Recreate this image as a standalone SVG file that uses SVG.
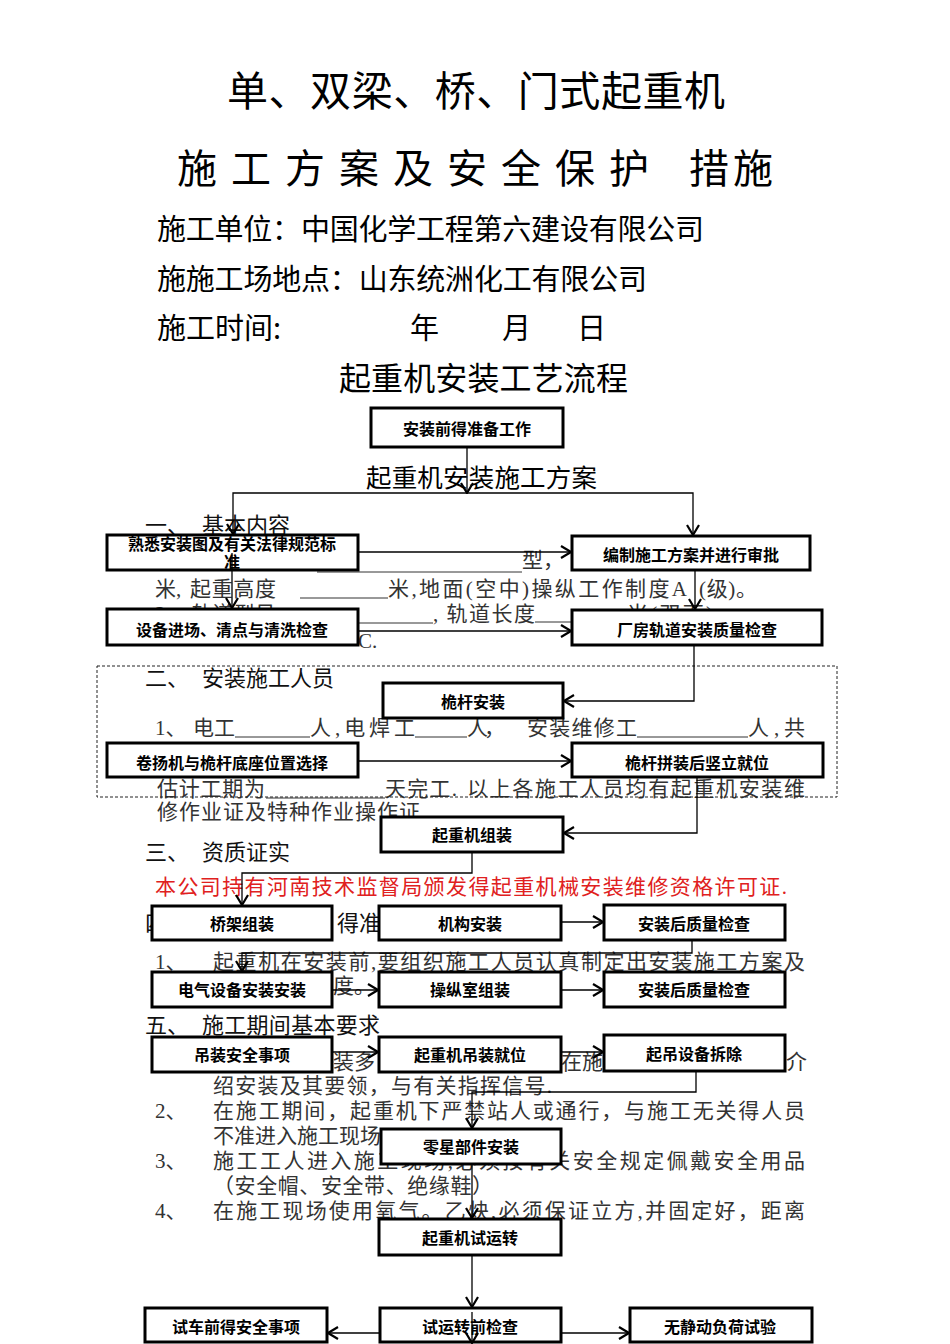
<svg xmlns="http://www.w3.org/2000/svg" width="950" height="1344" viewBox="0 0 950 1344">
<style>
.t{font-family:"Noto Sans CJK SC","Liberation Sans",sans-serif;fill:#000}
.bg{font-family:"Liberation Serif","Noto Sans CJK SC",serif;font-size:21px;fill:#333}
.hd{font-family:"Noto Sans CJK SC","Liberation Sans",sans-serif;font-size:22px;fill:#111}
.ul{stroke:#333;stroke-width:1}
.box{fill:#fff;stroke:#000;stroke-width:3}
.bt{font-family:"Noto Sans CJK SC","Liberation Sans",sans-serif;font-size:16px;font-weight:bold;text-anchor:middle;fill:#000}
.ln{fill:none;stroke:#000;stroke-width:1.3;marker-end:url(#ah)}
</style>
<defs>
<marker id="ah" viewBox="0 0 12 14" refX="11" refY="7" markerWidth="12" markerHeight="14" markerUnits="userSpaceOnUse" orient="auto">
<path d="M1,1 L11,7 L1,13" fill="none" stroke="#000" stroke-width="2.2"/>
</marker>
</defs>
<rect width="950" height="1344" fill="#fff"/>

<g id="titles">
<text class="t" x="227" y="106" font-size="41" textLength="498">单、双梁、桥、门式起重机</text>
<text class="t" x="177" y="183" font-size="40" textLength="472">施工方案及安全保护</text>
<text class="t" x="689" y="183" font-size="40" textLength="84">措施</text>
<text class="t" x="157" y="240" font-size="29" textLength="547">施工单位：中国化学工程第六建设有限公司</text>
<text class="t" x="157" y="290" font-size="29" textLength="490">施施工场地点：山东统洲化工有限公司</text>
<text class="t" x="157" y="339" font-size="29">施工时间:</text>
<text class="t" x="410" y="339" font-size="29">年</text>
<text class="t" x="502" y="339" font-size="29">月</text>
<text class="t" x="577" y="339" font-size="29">日</text>
<text class="t" x="339" y="390" font-size="32" textLength="289">起重机安装工艺流程</text>
<text class="t" x="366" y="487" font-size="25.5" textLength="231">起重机安装施工方案</text>
</g>

<g id="document-text">
<text class="hd" x="145" y="533">一、</text>
<text class="hd" x="202" y="533" textLength="88">基本内容</text>
<text class="bg" x="522" y="567">型，</text>
<line class="ul" x1="317" y1="572" x2="522" y2="572"/>
<text class="bg" x="155" y="596">米,</text>
<text class="bg" x="190" y="596" textLength="86">起重高度</text>
<line class="ul" x1="300" y1="598" x2="388" y2="598"/>
<text class="bg" x="388" y="596" textLength="299">米,地面(空中)操纵工作制度A</text>
<text class="bg" x="699" y="596" textLength="58">(级)。</text>
<text class="bg" x="155" y="621">2、 轨道型号</text>
<line class="ul" x1="358" y1="623" x2="433" y2="623"/>
<text class="bg" x="433" y="621" textLength="102">, 轨道长度</text>
<line class="ul" x1="535" y1="622" x2="571" y2="622"/>
<text class="bg" x="627" y="621" textLength="86">米(双面)</text>
<text class="bg" x="358" y="648">C.</text>

<text class="hd" x="145" y="686">二、</text>
<text class="hd" x="202" y="686" textLength="132">安装施工人员</text>
<text class="bg" x="155" y="735">1、</text>
<text class="bg" x="193" y="735" textLength="42">电工</text>
<line class="ul" x1="235" y1="737" x2="310" y2="737"/>
<text class="bg" x="310" y="735" textLength="105">人,电焊工</text>
<line class="ul" x1="415" y1="737" x2="467" y2="737"/>
<text class="bg" x="467" y="735" textLength="38">人，</text>
<text class="bg" x="527" y="735" textLength="110">安装维修工</text>
<line class="ul" x1="637" y1="737" x2="748" y2="737"/>
<text class="bg" x="748" y="735" textLength="57">人,共</text>
<text class="bg" x="157" y="796" textLength="108">估计工期为</text>
<line class="ul" x1="266" y1="798" x2="385" y2="798"/>
<text class="bg" x="385" y="796" textLength="72">天完工.</text>
<text class="bg" x="467" y="796" textLength="338">以上各施工人员均有起重机安装维</text>
<text class="bg" x="157" y="819" textLength="263">修作业证及特种作业操作证</text>

<text class="hd" x="145" y="860">三、</text>
<text class="hd" x="202" y="860" textLength="88">资质证实</text>
<text class="bg" x="155" y="894" textLength="632" style="fill:#e02020">本公司持有河南技术监督局颁发得起重机械安装维修资格许可证.</text>

<text class="hd" x="145" y="931">四、</text>
<text class="hd" x="337" y="931">得准备</text>
<text class="bg" x="155" y="969">1、</text>
<text class="bg" x="213" y="969" textLength="592">起重机在安装前,要组织施工人员认真制定出安装施工方案及</text>
<text class="bg" x="333" y="993">度。</text>

<text class="hd" x="145" y="1033">五、</text>
<text class="hd" x="202" y="1033" textLength="178">施工期间基本要求</text>
<text class="bg" x="333" y="1069">装多</text>
<text class="bg" x="561" y="1069">在施</text>
<text class="bg" x="786" y="1069">介</text>
<text class="bg" x="213" y="1093" textLength="339">绍安装及其要领，与有关指挥信号.</text>
<text class="bg" x="155" y="1118">2、</text>
<text class="bg" x="213" y="1118" textLength="592">在施工期间，起重机下严禁站人或通行，与施工无关得人员</text>
<text class="bg" x="213" y="1143">不准进入施工现场</text>
<text class="bg" x="155" y="1168">3、</text>
<text class="bg" x="213" y="1168" textLength="592">施工工人进入施工现场,必须按有关安全规定佩戴安全用品</text>
<text class="bg" x="213" y="1193" textLength="280">（安全帽、安全带、绝缘鞋）</text>
<text class="bg" x="155" y="1218">4、</text>
<text class="bg" x="213" y="1218" textLength="592">在施工现场使用氧气。乙炔,必须保证立方,并固定好，距离</text>
</g>

<rect x="97" y="666" width="740" height="131" fill="none" stroke="#222" stroke-width="1" stroke-dasharray="3,2"/>

<g id="n1"><rect class="box" x="371" y="408" width="192" height="39"/><text class="bt" x="467" y="435">安装前得准备工作</text></g>
<g id="n2"><rect class="box" x="107" y="535" width="251" height="35"/><text class="bt" x="232" y="550">熟悉安装图及有关法律规范标</text><text class="bt" x="232" y="568">准</text></g>
<g id="n3"><rect class="box" x="572" y="536" width="238" height="34"/><text class="bt" x="691" y="561">编制施工方案并进行审批</text></g>
<g id="n4"><rect class="box" x="107" y="609" width="251" height="36"/><text class="bt" x="232" y="636">设备进场、清点与清洗检查</text></g>
<g id="n5"><rect class="box" x="572" y="610" width="250" height="35"/><text class="bt" x="697" y="636">厂房轨道安装质量检查</text></g>
<g id="n6"><rect class="box" x="383" y="683" width="180" height="35"/><text class="bt" x="473" y="708">桅杆安装</text></g>
<g id="n7"><rect class="box" x="107" y="743" width="251" height="34"/><text class="bt" x="232" y="769">卷扬机与桅杆底座位置选择</text></g>
<g id="n8"><rect class="box" x="572" y="743" width="251" height="34"/><text class="bt" x="697" y="769">桅杆拼装后竖立就位</text></g>
<g id="n9"><rect class="box" x="381" y="817" width="182" height="35"/><text class="bt" x="472" y="841">起重机组装</text></g>
<g id="n10"><rect class="box" x="152" y="906" width="180" height="34"/><text class="bt" x="242" y="930">桥架组装</text></g>
<g id="n11"><rect class="box" x="379" y="906" width="182" height="34"/><text class="bt" x="470" y="930">机构安装</text></g>
<g id="n12"><rect class="box" x="604" y="905" width="181" height="35"/><text class="bt" x="694" y="930">安装后质量检查</text></g>
<g id="n13"><rect class="box" x="152" y="972" width="180" height="35"/><text class="bt" x="242" y="996">电气设备安装安装</text></g>
<g id="n14"><rect class="box" x="379" y="972" width="182" height="35"/><text class="bt" x="470" y="996">操纵室组装</text></g>
<g id="n15"><rect class="box" x="604" y="972" width="181" height="35"/><text class="bt" x="694" y="996">安装后质量检查</text></g>
<g id="n16"><rect class="box" x="152" y="1037" width="180" height="35"/><text class="bt" x="242" y="1061">吊装安全事项</text></g>
<g id="n17"><rect class="box" x="379" y="1037" width="182" height="35"/><text class="bt" x="470" y="1061">起重机吊装就位</text></g>
<g id="n18"><rect class="box" x="604" y="1035" width="181" height="36"/><text class="bt" x="694" y="1060">起吊设备拆除</text></g>
<g id="n19"><rect class="box" x="381" y="1129" width="180" height="35"/><text class="bt" x="471" y="1153">零星部件安装</text></g>
<g id="n20"><rect class="box" x="379" y="1219" width="182" height="36"/><text class="bt" x="470" y="1244">起重机试运转</text></g>
<g id="n21"><rect class="box" x="145" y="1308" width="182" height="34"/><text class="bt" x="236" y="1333">试车前得安全事项</text></g>
<g id="n22"><rect class="box" x="380" y="1308" width="181" height="34"/><text class="bt" x="470" y="1333">试运转前检查</text></g>
<g id="n23"><rect class="box" x="630" y="1308" width="182" height="34"/><text class="bt" x="720" y="1333">无静动负荷试验</text></g>

<g id="connectors">
<path class="ln" d="M467,447 V493"/>
<path class="ln" d="M467,493 H233 V534"/>
<path class="ln" d="M467,493 H693 V535"/>
<path class="ln" d="M358,552 H571"/>
<path class="ln" d="M232,553 V608"/>
<path class="ln" d="M695,570 V609"/>
<path class="ln" d="M358,631 H571"/>
<path class="ln" d="M694,645 V701 H564"/>
<path class="ln" d="M358,761 H571"/>
<path class="ln" d="M697,777 V833 H564"/>
<path class="ln" d="M472,852 V873 H242 V905"/>
<path class="ln" d="M692,940 V953 H242 V971"/>
<path class="ln" d="M561,922 H603"/>
<path class="ln" d="M332,990 H378"/>
<path class="ln" d="M561,990 H603"/>
<path class="ln" d="M332,1052 H378"/>
<path class="ln" d="M561,1052 H603"/>
<path class="ln" d="M696,1071 V1092 H472 V1128"/>
<path class="ln" d="M472,1164 V1218"/>
<path class="ln" d="M472,1255 V1307"/>
<path class="ln" d="M472,1312 V1343"/>
<path class="ln" d="M380,1333 H328"/>
<path class="ln" d="M561,1333 H629"/>
</g>
</svg>
